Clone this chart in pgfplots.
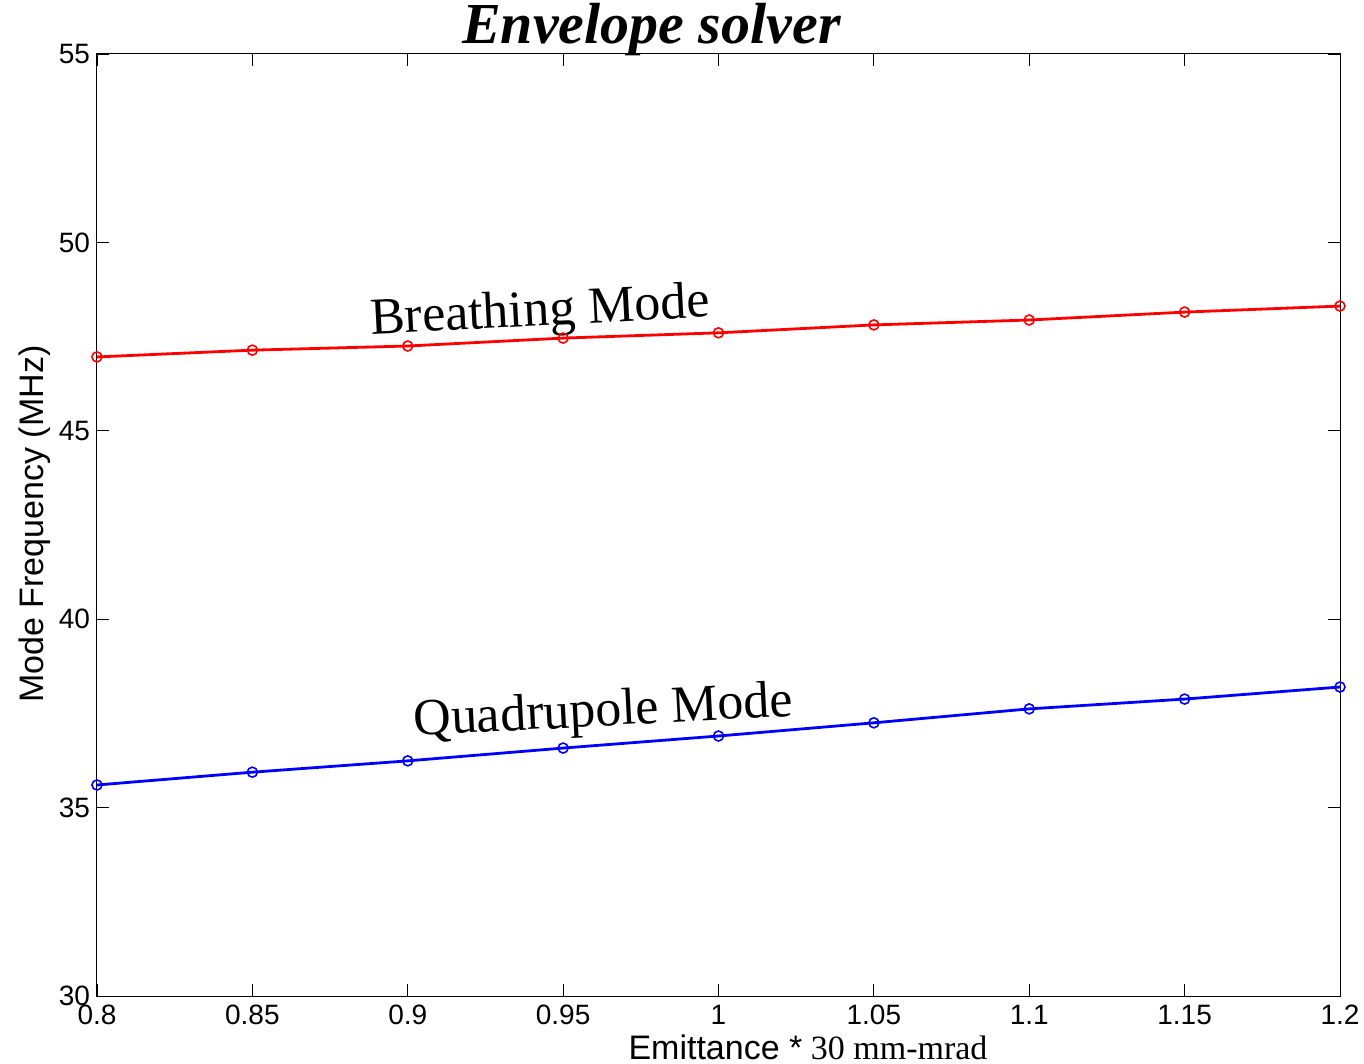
\documentclass[border=0pt]{standalone}
\usepackage{fontspec}
\setmainfont{Liberation Serif}
\setsansfont{Liberation Sans}
\usepackage{pgfplots}
\pgfplotsset{compat=1.18}
\begin{document}
\begin{tikzpicture}
\path[use as bounding box] (-48.5pt,-34pt) rectangle (633.5pt,498pt);
\begin{axis}[
  at={(0pt,0pt)}, anchor=south west,
  scale only axis,
  width=621.5pt, height=471pt,
  xmin=0.8, xmax=1.2, ymin=30, ymax=55,
  xtick={0.8,0.85,0.9,0.95,1,1.05,1.1,1.15,1.2},
  ytick={30,35,40,45,50,55},
  xticklabels={0.8,0.85,0.9,0.95,1,1.05,1.1,1.15,1.2},
  yticklabels={30,35,40,45,50,55},
  tick align=inside,
  major tick length=6pt,
  tick style={black, line width=0.4pt},
  axis line style={black, line width=0.5pt},
  ticklabel style={font=\sffamily\fontsize{14}{16}\selectfont},
  xticklabel style={yshift=-1pt},
  yticklabel style={xshift=0pt},
  title={\fontsize{29}{31}\selectfont\bfseries\itshape Envelope solver},
  title style={at={(axis description cs:0.446,1)}, anchor=center, yshift=6pt},
  xlabel={{\sffamily Emittance *} 30 mm-mrad},
  xlabel style={font=\fontsize{17}{19}\selectfont, at={(axis description cs:0.572,-0.054)}, anchor=center},
  ylabel={Mode Frequency (MHz)},
  ylabel style={font=\sffamily\fontsize{17}{19}\selectfont, at={(axis description cs:-0.0499,0.501)}, anchor=center, rotate=0},
  clip=false,
]
\addplot[red, line width=1.4pt, mark=o, mark size=2.5pt, mark options={line width=0.8pt}] coordinates {
(0.80,46.96) (0.85,47.14) (0.90,47.25) (0.95,47.46) (1.00,47.60)
(1.05,47.81) (1.10,47.94) (1.15,48.15) (1.20,48.31)};
\addplot[blue, line width=1.4pt, mark=o, mark size=2.5pt, mark options={line width=0.8pt}] coordinates {
(0.80,35.60) (0.85,35.94) (0.90,36.24) (0.95,36.58) (1.00,36.90)
(1.05,37.25) (1.10,37.62) (1.15,37.88) (1.20,38.20)};
\node[rotate=3, font=\fontsize{26}{28}\selectfont] at (axis cs:0.9426,48.12) {Breathing Mode};
\node[rotate=3, font=\fontsize{26}{28}\selectfont] at (axis cs:0.963,37.50) {Quadrupole Mode};
\end{axis}
\end{tikzpicture}
\end{document}
